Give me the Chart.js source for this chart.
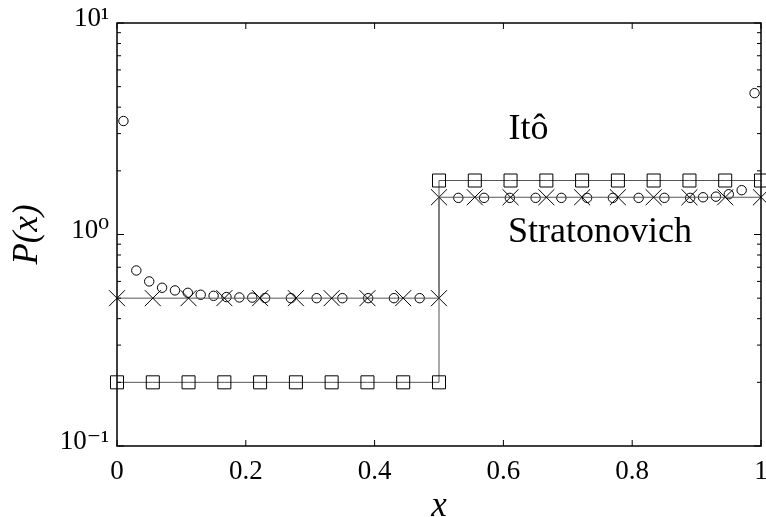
<!DOCTYPE html>
<html>
<head>
<meta charset="utf-8">
<script src="https://cdn.jsdelivr.net/npm/chart.js@4.4.1/dist/chart.umd.min.js"></script>
<style>
  html, body { margin: 0; padding: 0; background: #ffffff; }
  #wrap { width: 766px; height: 517px; }
</style>
</head>
<body>
<div id="wrap"><canvas id="c" width="766" height="517"></canvas></div>
<script>
// Grid of the analytic step solutions (x = 0 ... 1 in steps of 1/18, x = 0.5 listed twice for the jump)
const gridX = [0, 0.0556, 0.1111, 0.1667, 0.2222, 0.2778, 0.3333, 0.3889, 0.4444, 0.5,
               0.5, 0.5556, 0.6111, 0.6667, 0.7222, 0.7778, 0.8333, 0.8889, 0.9444, 1];
// Itô stationary density: 0.2 on the left half, 1.8 on the right half
const itoP = [0.2, 0.2, 0.2, 0.2, 0.2, 0.2, 0.2, 0.2, 0.2, 0.2,
              1.8, 1.8, 1.8, 1.8, 1.8, 1.8, 1.8, 1.8, 1.8, 1.8];
// Stratonovich stationary density: 0.5 on the left half, 1.5 on the right half
const stratP = [0.5, 0.5, 0.5, 0.5, 0.5, 0.5, 0.5, 0.5, 0.5, 0.5,
                1.5, 1.5, 1.5, 1.5, 1.5, 1.5, 1.5, 1.5, 1.5, 1.5];

// Simulated histogram
const simX = [0.01, 0.03, 0.05, 0.07, 0.09, 0.11, 0.13, 0.15, 0.17, 0.19, 0.21, 0.23,
              0.27, 0.31, 0.35, 0.39, 0.43, 0.47,
              0.53, 0.57, 0.61, 0.65, 0.69, 0.73, 0.77, 0.81, 0.85, 0.89,
              0.91, 0.93, 0.95, 0.97, 0.99];
const simP = [3.44, 0.676, 0.60, 0.56, 0.544, 0.53, 0.519, 0.513, 0.506, 0.504, 0.503, 0.501,
              0.5, 0.5, 0.5, 0.5, 0.5, 0.5,
              1.49, 1.49, 1.49, 1.49, 1.49, 1.49, 1.49, 1.49, 1.49, 1.49,
              1.5, 1.51, 1.55, 1.62, 4.66];

// Axis ticks and labels
const xTicks = [0, 0.2, 0.4, 0.6, 0.8, 1];
const xTickLabels = ['0', '0.2', '0.4', '0.6', '0.8', '1'];
const yDecades = [0.1, 1, 10];
const yTickLabels = ['10\u207B\u00B9', '10\u2070', '10\u00B9'];
const yMinorMultipliers = [2, 3, 4, 5, 6, 7, 8, 9];

// Curve labels placed in data coordinates
const curveLabels = [
  { text: 'Itô', x: 0.608, y: 2.82 },
  { text: 'Stratonovich', x: 0.607, y: 0.922 }
];

const serif = '"Liberation Serif", "DejaVu Serif", serif';

function pts(xs, ys) { return xs.map((x, i) => ({ x: x, y: ys[i] })); }

// Frame with inward ticks on all four sides, plus the curve labels
const framePlugin = {
  id: 'frame',
  afterDatasetsDraw(chart) {
    const ctx = chart.ctx, ca = chart.chartArea;
    const xs = chart.scales.x, ys = chart.scales.y;
    ctx.save();
    ctx.strokeStyle = '#000';
    ctx.lineWidth = 1;
    const seg = (x1, y1, x2, y2) => { ctx.beginPath(); ctx.moveTo(x1, y1); ctx.lineTo(x2, y2); ctx.stroke(); };
    xTicks.forEach(v => {
      const px = xs.getPixelForValue(v);
      seg(px, ca.bottom, px, ca.bottom - 6);
      seg(px, ca.top, px, ca.top + 6);
    });
    yDecades.forEach(d => {
      const py = ys.getPixelForValue(d);
      seg(ca.left, py, ca.left + 7, py);
      seg(ca.right, py, ca.right - 7, py);
      if (d < ys.max) {
        yMinorMultipliers.forEach(m => {
          const pm = ys.getPixelForValue(d * m);
          seg(ca.left, pm, ca.left + 4, pm);
          seg(ca.right, pm, ca.right - 4, pm);
        });
      }
    });
    ctx.lineWidth = 1.5;
    ctx.strokeRect(ca.left, ca.top, ca.right - ca.left, ca.bottom - ca.top);

    ctx.fillStyle = '#000';
    ctx.font = '36px ' + serif;
    ctx.textBaseline = 'alphabetic';
    ctx.textAlign = 'left';
    curveLabels.forEach(l => {
      ctx.fillText(l.text, xs.getPixelForValue(l.x), ys.getPixelForValue(l.y));
    });
    ctx.restore();
  }
};

new Chart(document.getElementById('c'), {
  type: 'line',
  data: {
    datasets: [
      {
        label: 'Itô',
        data: pts(gridX, itoP),
        borderColor: '#555',
        borderWidth: 1,
        pointStyle: 'rect',
        pointRadius: 9.2,
        pointBorderColor: '#000',
        pointBorderWidth: 1,
        pointBackgroundColor: 'rgba(0,0,0,0)',
        fill: false,
        clip: false
      },
      {
        label: 'Stratonovich',
        data: pts(gridX, stratP),
        borderColor: '#555',
        borderWidth: 1,
        pointStyle: 'crossRot',
        pointRadius: 11.3,
        pointBorderColor: '#000',
        pointBorderWidth: 1,
        fill: false,
        clip: false
      },
      {
        label: 'simulation',
        data: pts(simX, simP),
        showLine: false,
        pointStyle: 'circle',
        pointRadius: 4.7,
        pointBorderColor: '#000',
        pointBorderWidth: 1,
        pointBackgroundColor: 'rgba(0,0,0,0)',
        clip: false
      }
    ]
  },
  options: {
    responsive: false,
    animation: false,
    events: [],
    layout: { autoPadding: false, padding: { top: 23, right: 5, left: 0, bottom: 0 } },
    plugins: { legend: { display: false }, tooltip: { enabled: false } },
    scales: {
      x: {
        type: 'linear',
        min: 0,
        max: 1,
        grid: { display: false, drawTicks: false },
        border: { display: false },
        afterBuildTicks: s => { s.ticks = xTicks.map(v => ({ value: v })); },
        afterFit: s => { s.height = 71; s.paddingLeft = 0; s.paddingRight = 0; },
        ticks: {
          padding: 10,
          color: '#000',
          font: { family: serif, size: 27 },
          maxRotation: 0,
          callback: (v) => { const i = xTicks.indexOf(v); return i >= 0 ? xTickLabels[i] : ''; }
        },
        title: {
          display: true,
          text: 'x',
          color: '#000',
          padding: { top: 0, bottom: 0 },
          font: { family: serif, size: 35, style: 'italic', lineHeight: 0.6 }
        }
      },
      y: {
        type: 'logarithmic',
        min: 0.1,
        max: 10,
        grid: { display: false, drawTicks: false },
        border: { display: false },
        afterBuildTicks: s => { s.ticks = yDecades.map(v => ({ value: v })); },
        afterFit: s => { s.width = 117; s.paddingTop = 0; s.paddingBottom = 0; },
        ticks: {
          padding: 8,
          labelOffset: -4,
          color: '#000',
          font: { family: serif, size: 27 },
          callback: (v) => { const i = yDecades.findIndex(d => Math.abs(d - v) < 1e-9); return i >= 0 ? yTickLabels[i] : ''; }
        },
        title: {
          display: true,
          text: 'P(x)',
          color: '#000',
          padding: { top: 10, bottom: 0 },
          font: { family: serif, size: 35, style: 'italic', lineHeight: 1 }
        }
      }
    }
  },
  plugins: [framePlugin]
});
</script>
</body>
</html>
